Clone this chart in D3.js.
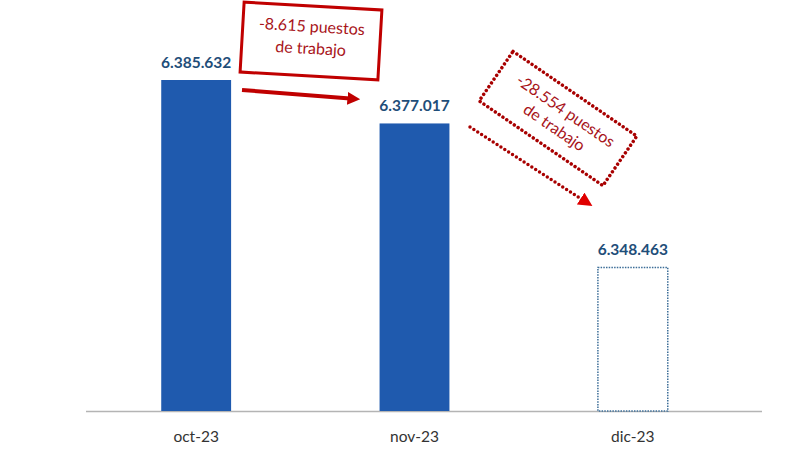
<!DOCTYPE html>
<html><head><meta charset="utf-8">
<script src="https://cdn.jsdelivr.net/npm/d3@7"></script>
<style>body{margin:0;background:#fff}svg{display:block}</style>
</head><body><svg id="c" width="800" height="450"></svg>
<script>
const categories = ["oct-23", "nov-23", "dic-23"];
const values = [6385632, 6377017, 6348463];
const projected = [false, false, true];
const changeLabels = [["-8.615 puestos", "de trabajo"], ["-28.554 puestos", "de trabajo"]];

const fmt = v => d3.format(",")(v).replace(/,/g, ".");
const svg = d3.select("#c");
const x = d3.scaleBand().domain(categories).range([87, 742]).paddingInner(0.68).paddingOuter(0.34);
const y = d3.scaleLinear().domain([6320000, 6385632]).range([411, 80]);
const red = "#c00000";
const dotRed = "#a80000";

// axis line
svg.append("line").attr("x1", 86).attr("x2", 762).attr("y1", 411.5).attr("y2", 411.5)
  .attr("stroke", "#b4b4b4").attr("stroke-width", 1.5);

// bars
categories.forEach((c, i) => {
  const r = svg.append("rect").attr("x", x(c)).attr("width", x.bandwidth())
    .attr("y", y(values[i])).attr("height", y.range()[0] - y(values[i]));
  if (projected[i]) r.attr("fill", "#fff").attr("stroke", "#3d6e98").attr("stroke-width", 1.5).attr("stroke-dasharray", "1.5 1.2");
  else r.attr("fill", "#1f5aae");
  svg.append("text").attr("x", x(c) + x.bandwidth() / 2).attr("y", y(values[i]) - 12)
    .attr("text-anchor", "middle").attr("font-family", "Lato, 'Open Sans', sans-serif")
    .attr("font-weight", "bold").attr("font-size", 15.5).attr("fill", "#1f4e79").text(fmt(values[i]));
  svg.append("text").attr("x", x(c) + x.bandwidth() / 2).attr("y", 442)
    .attr("text-anchor", "middle").attr("font-family", "Lato, 'Open Sans', sans-serif")
    .attr("font-size", 15.5).attr("fill", "#333").text(c);
});

// arrow markers
const defs = svg.append("defs");
defs.append("marker").attr("id", "ah").attr("viewBox", "0 0 10 10").attr("refX", 2).attr("refY", 5)
  .attr("markerWidth", 3.2).attr("markerHeight", 3.2).attr("orient", "auto")
  .append("path").attr("d", "M0,0L10,5L0,10Z").attr("fill", red);
defs.append("marker").attr("id", "ah2").attr("viewBox", "0 0 10 10").attr("refX", 2).attr("refY", 5)
  .attr("markerWidth", 4).attr("markerHeight", 4).attr("orient", "auto")
  .append("path").attr("d", "M0,0L10,5L0,10Z").attr("fill", "#e00000");

// annotation 1 (solid)
const a1 = svg.append("g").attr("transform", "translate(311,41) rotate(3.3)");
a1.append("rect").attr("x", -69).attr("y", -35).attr("width", 138).attr("height", 70)
  .attr("fill", "#fff").attr("stroke", red).attr("stroke-width", 3);
changeLabels[0].forEach((t, k) => a1.append("text").attr("x", 0).attr("y", -9 + k * 22)
  .attr("text-anchor", "middle").attr("font-family", "Lato, 'Open Sans', sans-serif")
  .attr("font-size", 16).attr("fill", "#a8141a").text(t));
svg.append("line").attr("x1", 242).attr("y1", 90).attr("x2", 350).attr("y2", 98.5)
  .attr("stroke", red).attr("stroke-width", 4).attr("marker-end", "url(#ah)");

// annotation 2 (dotted)
const a2 = svg.append("g").attr("transform", "translate(558,118.5) rotate(34.4)");
a2.append("rect").attr("x", -75).attr("y", -30).attr("width", 150).attr("height", 60)
  .attr("fill", "none").attr("stroke", dotRed).attr("stroke-width", 3.5)
  .attr("stroke-linecap", "round").attr("stroke-dasharray", "0 4.6");
changeLabels[1].forEach((t, k) => a2.append("text").attr("x", 2).attr("y", -5 + k * 20)
  .attr("text-anchor", "middle").attr("font-family", "Lato, 'Open Sans', sans-serif")
  .attr("font-size", 16).attr("fill", "#a8141a").text(t));
svg.append("line").attr("x1", 470).attr("y1", 127).attr("x2", 583).attr("y2", 200)
  .attr("stroke", dotRed).attr("stroke-width", 3.5).attr("stroke-linecap", "round")
  .attr("stroke-dasharray", "0 4.6").attr("marker-end", "url(#ah2)");
</script></body></html>
